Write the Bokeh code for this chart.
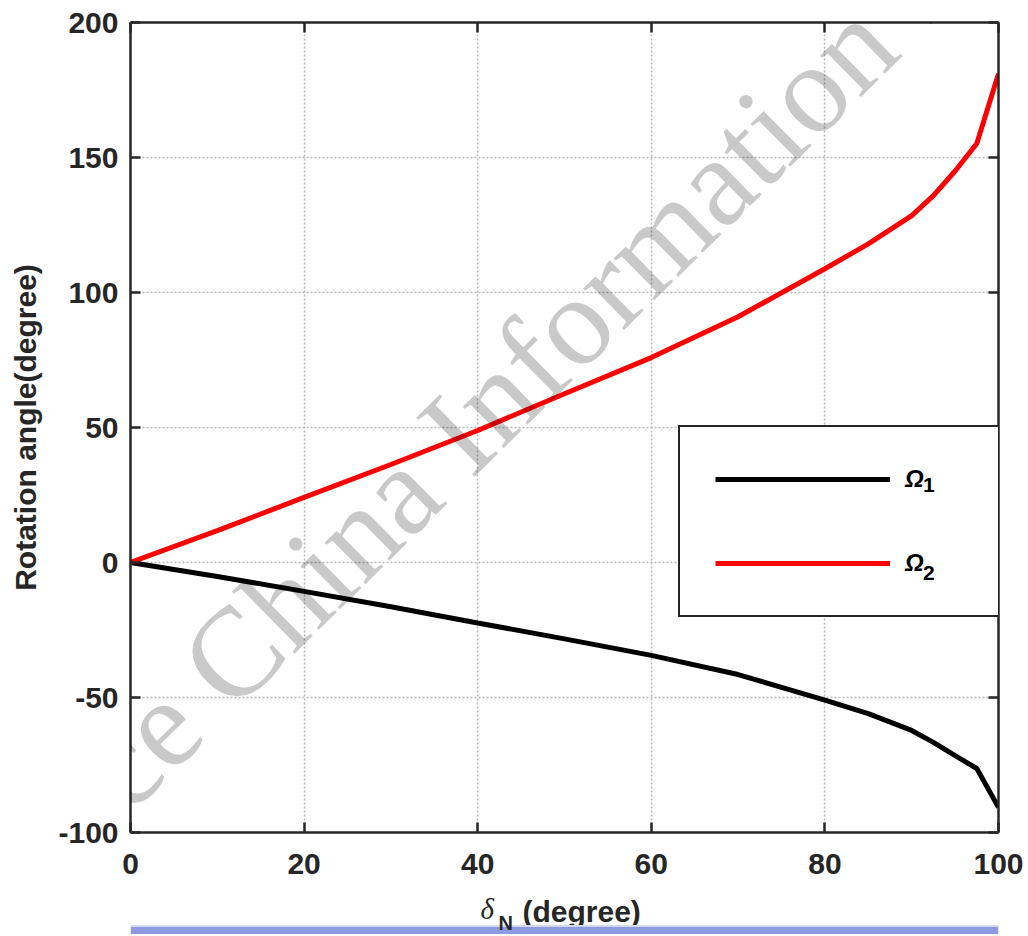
from bokeh.plotting import figure
from bokeh.layouts import column
from bokeh.models import (Range1d, LinearAxis, FixedTicker, Legend, LegendItem, Label,
                          CustomJSTickFormatter, BoxAnnotation)
from bokeh.embed import file_html
from bokeh.resources import INLINE

# ---- data ----
delta_n = [0, 10, 20, 30, 40, 50, 60, 70, 80, 85, 90, 92.5, 95, 97.5, 100]
omega1 = [0, -5.2, -10.7, -16.4, -22.4, -28.3, -34.4, -41.5, -51.0, -56.0,
          -62.2, -66.6, -71.5, -76.3, -90.7]
omega2 = [0, 11.8, 24.1, 36.3, 48.9, 62.5, 75.9, 91.0, 108.8, 118.0,
          128.5, 135.9, 145.0, 155.2, 181.0]
x_ticks = [0, 20, 40, 60, 80, 100]
y_ticks = [-100, -50, 0, 50, 100, 150, 200]
legend_symbol = "Ω"
legend_subscripts = ["1", "2"]
watermark = "Science China Information Sciences"

AX = "#262626"
FONT = "Liberation Sans"
WM_FONT = "Liberation Serif"

p = figure(width=1028, height=888, output_backend="svg", toolbar_location=None,
           x_range=Range1d(0, 100), y_range=Range1d(-100, 200),
           min_border_left=130, min_border_right=30, min_border_top=22,
           min_border_bottom=56, background_fill_color="white",
           border_fill_color="white", outline_line_color=None)

# grid
p.xgrid.ticker = FixedTicker(ticks=x_ticks)
p.ygrid.ticker = FixedTicker(ticks=y_ticks)
for g in (p.xgrid, p.ygrid):
    g.grid_line_color = "#b8b8b8"
    g.grid_line_width = 1.5
    g.grid_line_dash = "2 2"

plain = CustomJSTickFormatter(code="return String(tick)")


def style_axis(ax, ticks, labels=True, standoff=12):
    ax.ticker = FixedTicker(ticks=ticks)
    ax.axis_line_color = AX
    ax.axis_line_width = 2.5
    ax.major_tick_line_color = AX
    ax.major_tick_line_width = 2.5
    ax.major_tick_in = 10
    ax.major_tick_out = 0
    ax.minor_tick_line_color = None
    if labels:
        ax.formatter = plain
        ax.major_label_text_font = FONT
        ax.major_label_text_font_style = "bold"
        ax.major_label_text_font_size = "30px"
        ax.major_label_text_color = AX
        ax.major_label_standoff = standoff
    else:
        ax.formatter = CustomJSTickFormatter(code="return ''")
        ax.major_label_standoff = 0


style_axis(p.xaxis[0], x_ticks, standoff=21)
style_axis(p.yaxis[0], y_ticks, standoff=12)

p.yaxis[0].axis_label = "Rotation angle(degree)"
p.yaxis[0].axis_label_text_font = FONT
p.yaxis[0].axis_label_text_font_style = "bold"
p.yaxis[0].axis_label_text_font_size = "30px"
p.yaxis[0].axis_label_text_color = AX
p.yaxis[0].axis_label_standoff = 13

top_ax = LinearAxis()
style_axis(top_ax, x_ticks, labels=False)
p.add_layout(top_ax, "above")
right_ax = LinearAxis()
style_axis(right_ax, y_ticks, labels=False)
p.add_layout(right_ax, "right")

# curves
r1 = p.line(delta_n, omega1, line_color="black", line_width=5)
r2 = p.line(delta_n, omega2, line_color="#ff0000", line_width=5)

# watermark (semi-transparent, above the curves)
p.add_layout(Label(x=-26.79, y=-155.8, text=watermark,
                   angle=44.5, angle_units="deg", text_font=WM_FONT,
                   text_font_size="127px", text_color="black", text_alpha=0.21,
                   text_align="left", text_baseline="middle"))

legend = Legend(items=[LegendItem(label=legend_symbol, renderers=[r1]),
                       LegendItem(label=legend_symbol, renderers=[r2])],
                location=(548, 215), padding=35, spacing=50,
                glyph_width=175, glyph_height=34, label_height=34,
                label_width=72, label_standoff=15,
                label_text_font=FONT, label_text_font_style="bold italic",
                label_text_font_size="24px", label_text_color="black",
                border_line_color=AX, border_line_width=2, border_line_alpha=1.0,
                background_fill_color="white", background_fill_alpha=1.0)
p.add_layout(legend)

# subscripts of the legend labels: a second, transparent legend on top
sub_legend = Legend(items=[LegendItem(label=legend_subscripts[0], renderers=[r1]),
                           LegendItem(label=legend_subscripts[1], renderers=[r2])],
                    location=(793, 247), padding=0, spacing=64,
                    glyph_width=0, glyph_height=20, label_height=20,
                    label_width=16, label_standoff=0,
                    label_text_font=FONT, label_text_font_style="bold",
                    label_text_font_size="21px", label_text_color="black",
                    border_line_color=None, background_fill_alpha=0.0)
p.add_layout(sub_legend)

# ---- bottom strip: x-axis title (its frame is aligned with the main frame,
#      so its x range is given in page pixels 130..998) ----
p2 = figure(width=1028, height=46, output_backend="svg", toolbar_location=None,
            x_range=Range1d(130, 998), y_range=Range1d(934, 888),
            x_axis_location=None, y_axis_location=None,
            min_border_left=0, min_border_right=0, min_border_top=0,
            min_border_bottom=0, background_fill_color="white",
            border_fill_color="white", outline_line_color=None)
p2.grid.visible = False

p2.add_layout(Label(x=480, y=908.2, text="δ", text_font="Liberation Serif",
                    text_font_style="italic", text_font_size="29px",
                    text_color=AX, text_align="left", text_baseline="middle"))
p2.add_layout(Label(x=522, y=910.6, text="(degree)", text_font=FONT,
                    text_font_style="bold", text_font_size="30px",
                    text_color=AX, text_align="left", text_baseline="middle"))
p2.add_layout(BoxAnnotation(top=924.5, bottom=926.5, fill_color="#d4d8ee",
                            fill_alpha=1.0, line_color=None))
p2.add_layout(BoxAnnotation(top=926.5, bottom=940, fill_color="#8e9ae0",
                            fill_alpha=1.0, line_color=None))
p2.add_layout(Label(x=498, y=922.5, text="N", text_font=FONT,
                    text_font_style="bold", text_font_size="20px",
                    text_color=AX, text_align="left", text_baseline="middle"))

page = column(p, p2, spacing=0)
open("out.html", "w").write(file_html(page, INLINE))
